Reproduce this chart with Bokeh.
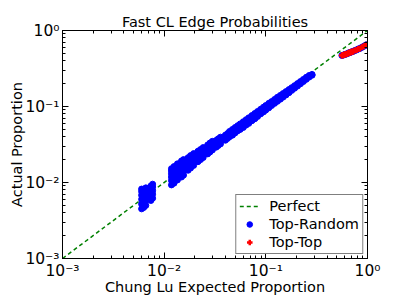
from bokeh.plotting import figure
from bokeh.models import LogAxis, CustomJSTickFormatter, FixedTicker, Legend, LegendItem, Spacer
from bokeh.layouts import column, row
from bokeh.embed import file_html
from bokeh.resources import INLINE

# ---------------- data ----------------
perfect_x = [0.001, 1.0]
perfect_y = [0.001, 1.0]

# Top-Random: expected proportion (x) and the actual proportions observed (y)
tr_x = [0.0060, 0.0063, 0.0066, 0.0074, 0.0077,
        0.0118, 0.0125, 0.0135, 0.0148, 0.0155,
        0.0172, 0.0182, 0.0195,
        0.0215, 0.0228, 0.0242,
        0.0268, 0.0282, 0.0298,
        0.0325, 0.0340, 0.0358,
        0.040, 0.042, 0.044, 0.047, 0.050, 0.053,
        0.056, 0.060, 0.064, 0.068, 0.073, 0.078, 0.083, 0.089, 0.095, 0.100,
        0.107, 0.114, 0.122, 0.130, 0.139, 0.148, 0.158, 0.169, 0.180, 0.192,
        0.205, 0.219, 0.234, 0.250, 0.267, 0.285,
        0.56, 0.58, 0.60, 0.62, 0.64, 0.66, 0.68, 0.70, 0.72, 0.75, 0.78,
        0.81, 0.84, 0.88, 0.92, 0.96, 0.98]
tr_y = [[0.0045, 0.0052, 0.0060, 0.0068, 0.0076, 0.0082],
        [0.0047, 0.0055, 0.0063, 0.0071, 0.0079],
        [0.0050, 0.0058, 0.0066, 0.0075, 0.0085],
        [0.0058, 0.0066, 0.0074, 0.0082, 0.0090],
        [0.0062, 0.0070, 0.0078, 0.0087, 0.0095],
        [0.0093, 0.0106, 0.0118, 0.0130, 0.0142, 0.0152],
        [0.0098, 0.0111, 0.0124, 0.0138, 0.0152, 0.0162],
        [0.0108, 0.0121, 0.0135, 0.0150, 0.0165, 0.0176],
        [0.0118, 0.0132, 0.0147, 0.0163, 0.0180, 0.0192],
        [0.0125, 0.0140, 0.0156, 0.0172, 0.0190, 0.0200],
        [0.0145, 0.0160, 0.0176, 0.0195, 0.0212],
        [0.0155, 0.0171, 0.0188, 0.0207, 0.0226],
        [0.0168, 0.0184, 0.0202, 0.0222, 0.0240],
        [0.0188, 0.0205, 0.0223, 0.0242, 0.0258],
        [0.0200, 0.0218, 0.0237, 0.0256, 0.0272],
        [0.0213, 0.0232, 0.0251, 0.0271, 0.0288],
        [0.0238, 0.0256, 0.0276, 0.0296, 0.0312],
        [0.0252, 0.0271, 0.0292, 0.0312, 0.0330],
        [0.0268, 0.0288, 0.0308, 0.0330, 0.0348],
        [0.0292, 0.0314, 0.0336, 0.0358],
        [0.0306, 0.0328, 0.0352, 0.0375],
        [0.0322, 0.0346, 0.0370, 0.0395],
        [0.036, 0.039, 0.042], [0.038, 0.041, 0.044], [0.040, 0.043, 0.047],
        [0.042, 0.046, 0.050], [0.045, 0.049, 0.053], [0.048, 0.052, 0.056],
        [0.050, 0.054, 0.059], [0.053, 0.058, 0.063],
        [0.057, 0.062, 0.067], [0.060, 0.066, 0.071], [0.065, 0.070, 0.076],
        [0.069, 0.075, 0.081], [0.074, 0.080, 0.086], [0.080, 0.086, 0.092],
        [0.085, 0.091, 0.098], [0.090, 0.096, 0.103], [0.096, 0.103, 0.110],
        [0.103, 0.109, 0.116], [0.110, 0.117, 0.124], [0.117, 0.124, 0.132],
        [0.125, 0.132, 0.140], [0.133, 0.140, 0.148], [0.142, 0.150, 0.157],
        [0.152, 0.160, 0.167], [0.163, 0.170, 0.177], [0.174, 0.181, 0.188],
        [0.186, 0.193, 0.200], [0.199, 0.206, 0.213], [0.213, 0.220, 0.227],
        [0.228, 0.235, 0.242], [0.244, 0.250, 0.256], [0.258, 0.264],
        [0.470], [0.475], [0.485], [0.490], [0.500], [0.510], [0.515],
        [0.525], [0.530], [0.545], [0.555], [0.570], [0.580], [0.600],
        [0.620], [0.640], [0.650]]

# Top-Top
tt_x = [0.56, 0.57, 0.58, 0.59, 0.60, 0.61, 0.62, 0.63, 0.64, 0.65, 0.66,
        0.67, 0.68, 0.69, 0.70, 0.71, 0.72, 0.75, 0.78, 0.81, 0.84, 0.88,
        0.92, 0.96, 0.98]
tt_y = [0.470, 0.472, 0.475, 0.480, 0.485, 0.487, 0.490, 0.495, 0.500, 0.505,
        0.510, 0.512, 0.515, 0.520, 0.525, 0.527, 0.530, 0.545, 0.555, 0.570,
        0.580, 0.600, 0.620, 0.640, 0.650]

tick_values = [0.001, 0.01, 0.1, 1.0]

# expand groups
rx, ry = [], []
for xv, ys in zip(tr_x, tr_y):
    for yv in ys:
        rx.append(xv)
        ry.append(yv)

FONT = "DejaVu Sans"

p = figure(frame_width=305, frame_height=228, x_axis_type="log", y_axis_type="log",
           x_range=(0.001, 1.0), y_range=(0.001, 1.0),
           output_backend="svg", toolbar_location=None,
           min_border_left=4, min_border_right=20,
           min_border_top=4, min_border_bottom=2,
           title="Fast CL Edge Probabilities")
p.title.align = "center"
p.title.text_font = FONT
p.title.text_font_size = "14.5px"
p.title.text_font_style = "normal"
p.title.text_color = "black"
p.title.standoff = 2

p.xgrid.visible = False
p.ygrid.visible = False
p.outline_line_color = "black"
p.outline_line_width = 1
p.background_fill_color = "white"
p.border_fill_color = "white"

fmt = CustomJSTickFormatter(code="""
const e = Math.round(Math.log10(tick));
const sup = {'-':'\u207b','0':'\u2070','1':'\u00b9','2':'\u00b2','3':'\u00b3'};
return '10' + String(e).split('').map(c => sup[c]).join('');
""")

def style_axis(ax, labels=True):
    ax.ticker = FixedTicker(ticks=tick_values,
                            minor_ticks=[m * d for d in [0.001, 0.01, 0.1] for m in range(2, 10)])
    ax.formatter = fmt
    ax.major_tick_in = 6
    ax.major_tick_out = 0
    ax.minor_tick_in = 3
    ax.minor_tick_out = 0
    ax.axis_line_color = "black"
    ax.major_tick_line_color = "black"
    ax.minor_tick_line_color = "black"
    ax.major_label_text_font = FONT
    ax.major_label_text_font_size = "15.5px"
    ax.major_label_text_color = "black"
    ax.axis_label_text_font = FONT
    ax.axis_label_text_font_size = "14.5px"
    ax.axis_label_text_font_style = "normal"
    ax.axis_label_text_color = "black"
    if not labels:
        ax.major_label_text_color = None
        ax.major_label_text_font_size = "0px"
        ax.major_label_standoff = 0

style_axis(p.xaxis[0])
style_axis(p.yaxis[0])
p.xaxis[0].axis_label = "Chung Lu Expected Proportion"
p.yaxis[0].axis_label = "Actual Proportion"
p.xaxis[0].major_label_standoff = 3
p.yaxis[0].major_label_standoff = 3
p.xaxis[0].axis_label_standoff = -4
p.yaxis[0].axis_label_standoff = -3

top_ax = LogAxis()
right_ax = LogAxis()
style_axis(top_ax, labels=False)
style_axis(right_ax, labels=False)
p.add_layout(top_ax, "above")
p.add_layout(right_ax, "right")

r_perf = p.line(perfect_x, perfect_y, line_color="green", line_dash="4 3", line_width=1.5)
r_rand = p.scatter(rx, ry, size=6, marker="circle", fill_color="blue", line_color="blue")
r_top = p.scatter(tt_x, tt_y, size=6, marker="cross", line_color="red", line_width=2.5)

legend = Legend(items=[LegendItem(label="Perfect", renderers=[r_perf]),
                       LegendItem(label="Top-Random", renderers=[r_rand]),
                       LegendItem(label="Top-Top", renderers=[r_top])],
                location="bottom_right")
legend.border_line_color = "black"
legend.border_line_width = 1
legend.background_fill_color = "white"
legend.label_text_font = FONT
legend.label_text_font_size = "14.5px"
legend.label_text_color = "black"
legend.glyph_width = 20
legend.glyph_height = 14
legend.spacing = 2
legend.padding = 3
legend.margin = 4
legend.label_standoff = 10
p.add_layout(legend, "center")

page = column(Spacer(height=10, width=10),
              row(Spacer(width=6, height=10), p, spacing=0),
              spacing=0)
open("out.html", "w").write(file_html(page, INLINE))
